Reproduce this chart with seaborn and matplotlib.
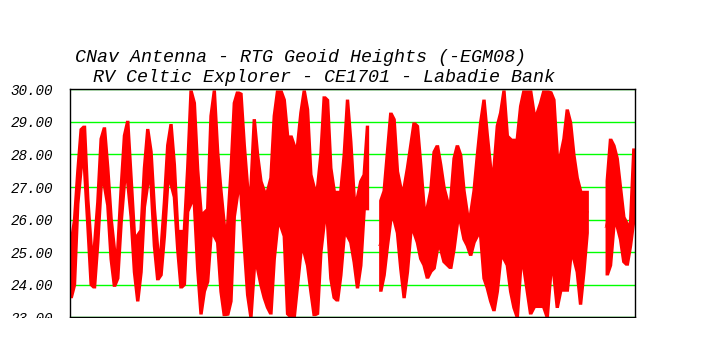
import numpy as np
import pandas as pd
import matplotlib
matplotlib.use("Agg")
import matplotlib.pyplot as plt
import seaborn as sns
from matplotlib.patches import Rectangle
from matplotlib.font_manager import FontProperties

title_line1 = "CNav Antenna - RTG Geoid Heights (-EGM08)"
title_line2 = "RV Celtic Explorer - CE1701 - Labadie Bank"
y_ticks = [23, 24, 25, 26, 27, 28, 29, 30]
y_tick_labels = ["23.00", "24.00", "25.00", "26.00", "27.00", "28.00", "29.00", "30.00"]

nan = float("nan")

# upper envelope of the geoid-height trace per sample
height_high = [
    25.3, 26.0, 27.5, 28.8, 28.9, 26.65, 25.2, 25.1, 26.55, 28.5, 28.85, 27.6, 26.05, 24.7, 25.1, 26.95,
    28.6, 29.05, 27.3, 25.55, 24.9, 25.7, 27.6, 28.8, 28.1, 26.35, 25.1, 24.9, 26.55, 28.3, 28.95, 27.7,
    25.7, 25.1, 25.7, 27.6, 29.98, 29.6, 27.55, 26.25, 25.7, 26.35, 29.2, 29.98, 28.1, 26.9, 25.85, 25.85,
    27.5, 29.6, 29.95, 29.9,
    28.3, 27.0, 26.5, 29.1, 28.0, 27.2, 26.9, 26.8, 27.3, 29.2, 29.98, 29.98, 29.7, 28.0, 28.6, 28.3,
    27.2, 29.3, 29.98, 29.4, 27.4, 27.0, 26.9, 28.0, 29.8, 29.7, 27.6, 26.9,
    26.9, 26.4, 28.0, 29.7, 28.4, 26.7, 26.5, 27.2, 27.4, 28.9, nan, nan, nan, 26.6, 26.9, 28.1,
    29.3, 29.1, 27.5, 27.0, 26.9, 27.6, 28.3, 29.0, 28.9, 27.7, 26.3, 26.4, 26.9, 28.1,
    28.3, 27.7, 27.0, 26.2, 26.6, 27.9, 28.3, 28.0, 26.9, 26.0, 26.2, 26.9, 28.0, 29.0, 29.7, 28.6,
    27.6, 27.6, 28.9, 29.3, 29.98, 28.6, 28.0, 28.5, 28.2, 29.5, 29.98, 29.98, 29.98, 29.3,
    28.3, 29.6, 29.98, 29.98, 29.95, 29.7, 28.0, 27.0, 28.5, 29.4, 29.0, 28.0, 27.3, 26.4, 26.9, 26.9,
    nan, nan, nan, nan, nan, 27.2, 28.5, 28.3, 27.9, 27.0, 26.1, 25.9, 25.8, 28.2,
]

# lower envelope of the geoid-height trace per sample
height_low = [
    23.6, 24.0, 26.5, 27.8, 27.6, 25.85, 24.0, 23.9, 25.3, 27.05, 27.6, 26.45, 24.8, 23.95, 24.2, 25.9,
    27.15, 27.7, 26.1, 24.4, 23.5, 24.4, 26.4, 27.8, 27.1, 25.2, 24.15, 24.3, 25.5, 27.1, 27.9, 26.7,
    25.1, 23.9, 24.0, 26.25, 27.1, 26.5, 24.5, 23.1, 23.8, 24.1, 25.5, 26.0, 25.3, 23.8, 23.05, 23.07,
    23.5, 26.1, 27.5, 26.8,
    25.2, 23.7, 23.0, 24.5, 25.0, 24.0, 23.6, 23.3, 23.1, 24.8, 25.8, 26.3, 25.5, 23.1, 23.0, 23.0,
    24.0, 25.0, 25.8, 24.6, 23.8, 23.05, 23.1, 25.0, 25.9, 26.5, 24.2, 23.6,
    23.5, 24.3, 25.5, 26.0, 25.3, 24.7, 23.9, 24.6, 26.3, 26.3, nan, nan, nan, 23.8, 24.3, 25.2,
    26.0, 26.3, 25.6, 24.5, 23.6, 24.4, 25.6, 26.2, 25.3, 24.8, 24.6, 24.2, 24.4, 24.5,
    26.2, 25.1, 24.7, 24.6, 24.5, 25.1, 26.1, 25.9, 25.4, 25.2, 24.9, 25.3, 26.1, 25.5, 24.2, 23.9,
    23.5, 23.2, 23.8, 24.8, 25.0, 24.6, 23.8, 23.3, 23.0, 24.7, 24.5, 23.8, 23.1, 23.5,
    23.3, 23.3, 23.5, 23.0, 24.5, 24.3, 23.3, 23.8, 24.0, 23.8, 24.8, 25.0, 24.4, 23.4, 24.4, 25.6,
    nan, nan, nan, nan, nan, 24.3, 24.6, 26.0, 25.8, 25.4, 24.7, 24.6, 25.2, 26.0,
]

# long-form table: each sample covers a column of width one sample, spanning low..high
rows = []
seg = 0
for k, (h, l) in enumerate(zip(height_high, height_low)):
    if np.isnan(h):
        seg += 1
        continue
    for edge in (k - 0.5, k + 0.5):
        rows.append((edge, h, seg))
        rows.append((edge, l, seg))
band = pd.DataFrame(rows, columns=["t", "height", "segment"])

sns.set_theme(style="white")
W, H = 706, 356
fig = plt.figure(figsize=(W / 100, H / 100), dpi=100)
fig.patch.set_facecolor("white")
ax = fig.add_axes([70 / W, 1 - 317.3 / H, 565 / W, 228 / H])
ax.set_facecolor("white")
ax.grid(axis="y", color="#00ff00", lw=1.0)
ax.grid(axis="x", visible=False)
ax.set_axisbelow(True)

for s_id, sub in band.groupby("segment"):
    sns.lineplot(data=sub, x="t", y="height", estimator="mean", errorbar=("pi", 100),
                 err_kws={"alpha": 1.0, "linewidth": 0, "facecolor": "#ff0000"},
                 color="#ff0000", lw=0.5, ax=ax, legend=False)

ax.set_xlim(-0.2, len(height_high) - 0.5)
ax.set_ylim(23, 30)
ax.set_xticks([])
ax.set_xlabel("")
ax.set_ylabel("")

tick_fp = FontProperties(family="Liberation Mono", style="italic", size=10.3)
ax.set_yticks(y_ticks)
ax.set_yticklabels(y_tick_labels, fontproperties=tick_fp, color="black")
ax.tick_params(axis="y", length=0, pad=12.2)

for s in ax.spines.values():
    s.set_visible(True)
    s.set_color("black")
    s.set_linewidth(1.0)

title_fp = FontProperties(family="Liberation Mono", style="italic", size=13.2)
fig.text(75 / W, 1 - 61.7 / H, title_line1, fontproperties=title_fp, ha="left", va="baseline", color="black")
fig.text(92.7 / W, 1 - 81.7 / H, title_line2, fontproperties=title_fp, ha="left", va="baseline", color="black")

fig.add_artist(Rectangle((0, 0), 1, (H - 318.3) / H, transform=fig.transFigure,
                         facecolor="white", edgecolor="none", zorder=5))

fig.savefig("out.png", dpi=100, facecolor="white")
